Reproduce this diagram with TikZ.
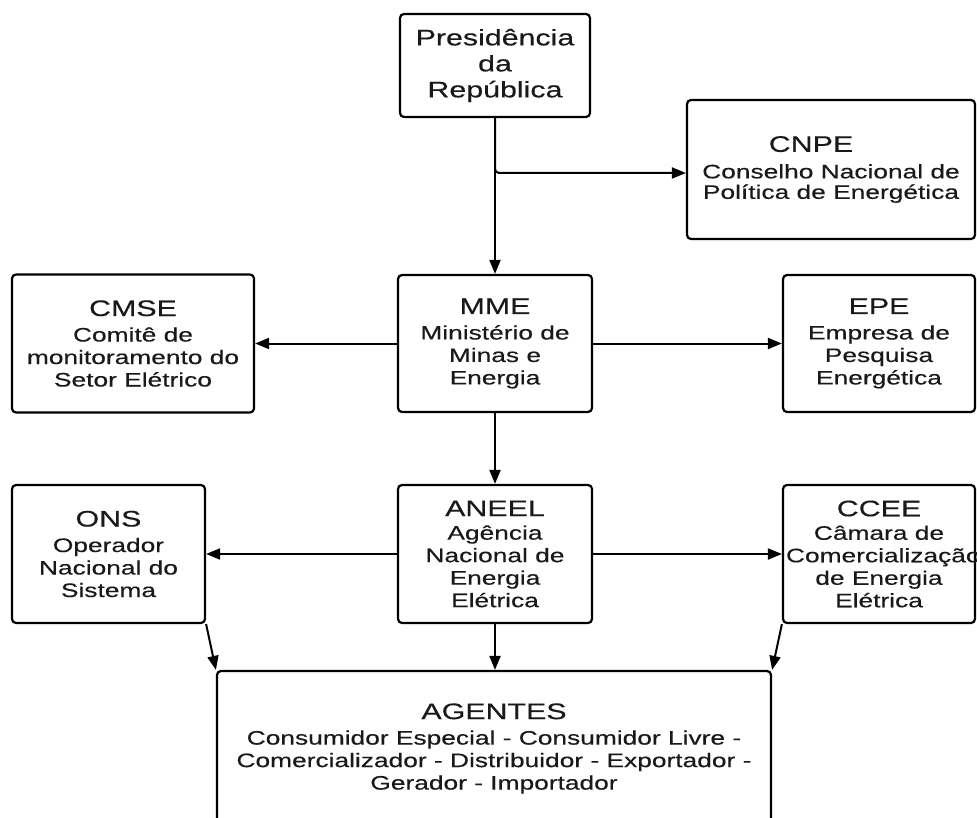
\documentclass[tikz,border=0pt]{standalone}
\usepackage{fontspec}
\newfontfamily\bxfont{Liberation Sans}[FakeStretch=1.35,FakeBold=0.3]
\usetikzlibrary{arrows.meta}
\tikzset{
  box/.style={draw=black, line width=2.2pt, rounded corners=4pt, inner sep=0pt,
    align=center, text=black!90, font=\bxfont\fontsize{19.5}{22.5}\selectfont},
  conn/.style={draw=black, line width=2pt, -{Triangle[length=14pt,width=11pt]}},
}
\newcommand\ttlfont{\fontsize{22.5}{26}\selectfont}
\begin{document}
\begin{tikzpicture}[x=1pt,y=-1pt]
\clip (0,0) rectangle (977,818);
\fill[white] (0,0) rectangle (977,818);

\node[box, minimum width=190pt, minimum height=103pt, font=\bxfont\ttlfont] (pres) at (495,65.5) {Presidência\\da\\República};
\node[box, minimum width=288pt, minimum height=139pt, font=\bxfont\fontsize{19.5}{20.5}\selectfont] (cnpe) at (831,169.5)
  {{\ttlfont\hbox{CNPE\kern40pt}}\\[6pt]Conselho Nacional de\\Política de Energética};

\node[box, minimum width=242pt, minimum height=138pt] (cmse) at (133,343.5)
  {{\ttlfont CMSE}\\[3pt]Comitê de\\monitoramento do\\Setor Elétrico};
\node[box, minimum width=194pt, minimum height=137pt] (mme) at (495,343.5)
  {{\ttlfont MME}\\[3pt]Ministério de\\Minas e\\Energia};
\node[box, minimum width=192pt, minimum height=137pt] (epe) at (879,343.5)
  {{\ttlfont EPE}\\[3pt]Empresa de\\Pesquisa\\Energética};

\node[box, minimum width=193pt, minimum height=138pt] (ons) at (108.5,554)
  {{\ttlfont ONS}\\[3pt]Operador\\Nacional do\\Sistema};
\node[box, minimum width=194pt, minimum height=138pt] (aneel) at (495,554)
  {{\ttlfont ANEEL}\\[1pt]Agência\\Nacional de\\Energia\\Elétrica};
\node[box, minimum width=192pt, minimum height=138pt] (ccee) at (879,554)
  {{\ttlfont CCEE}\\[1pt]Câmara de\\\makebox[186pt][l]{Comercialização}\\de Energia\\Elétrica};

\node[box, minimum width=554pt, minimum height=155pt] (agentes) at (494,748.5)
  {{\ttlfont AGENTES}\\[3pt]Consumidor Especial - Consumidor Livre -\\Comercializador - Distribuidor - Exportador -\\Gerador - Importador};

\coordinate (br) at (495,173);
\draw[conn] (pres.south) -- (mme.north);
\draw[conn, rounded corners=4pt] (pres.south) |- (cnpe.west |- br);
\draw[conn] (mme.west) -- (mme.west -| cmse.east);
\draw[conn] (mme.east) -- (mme.east -| epe.west);
\draw[conn] (mme.south) -- (aneel.north);
\draw[conn] (aneel.west) -- (aneel.west -| ons.east);
\draw[conn] (aneel.east) -- (aneel.east -| ccee.west);
\draw[conn] (ons.south east) -- (agentes.north west);
\draw[conn] (aneel.south) -- (aneel.south |- agentes.north);
\draw[conn] (ccee.south west) -- (agentes.north east);
\end{tikzpicture}
\end{document}
